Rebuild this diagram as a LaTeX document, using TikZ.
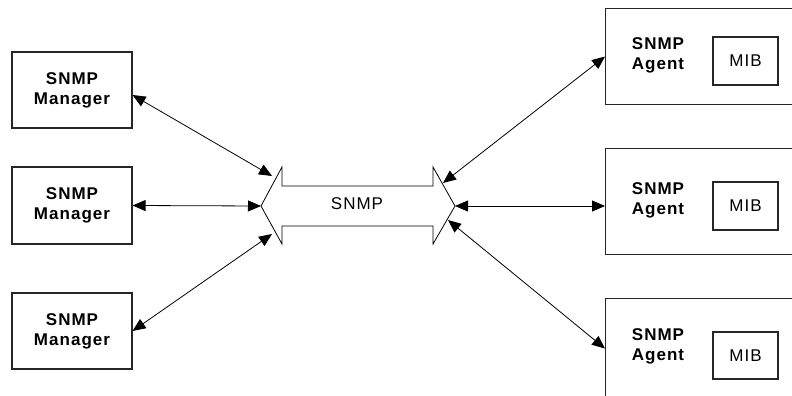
\documentclass[tikz,border=0pt]{standalone}
\usepackage{fontspec}
\setmainfont{Liberation Sans}
\newfontfamily\espaciada{Liberation Sans}[LetterSpace=6]
\usetikzlibrary{arrows.meta}

\tikzset{
  caja/.style={draw=black!85, line width=1.1pt, fill=white, inner sep=0pt},
  texto/.style={font=\espaciada\fontsize{17}{20}\selectfont, align=center},
  negrita/.style={font=\espaciada\bfseries\fontsize{17}{20}\selectfont, align=center},
  flecha/.style={{Triangle[length=13pt,width=11pt]}-{Triangle[length=13pt,width=11pt]}, line width=0.8pt}
}

\begin{document}
\begin{tikzpicture}[x=1pt, y=-1pt]
    \useasboundingbox (0,0) rectangle (792,396);
    \clip (0,0) rectangle (792,396);

    % Dibujar los gestores
    \node[caja, negrita, minimum width=120pt, minimum height=76pt] (m1) at (72,90) {SNMP\\Manager};
    \node[caja, negrita, minimum width=120pt, minimum height=77pt] (m2) at (72,205.5) {SNMP\\Manager};
    \node[caja, negrita, minimum width=120pt, minimum height=76pt] (m3) at (72,331) {SNMP\\Manager};

    % Dibujar la flecha doble del protocolo
    \draw[line width=0.8pt, fill=white] (261,206) -- (282,167) -- (282,186) -- (433,186) -- (433,167)
        -- (455,206) -- (433,244) -- (433,226) -- (282,226) -- (282,244) -- cycle;
    \node[texto] (snmp) at (357,204) {SNMP};
    \coordinate (izq) at (261,206);   % punta izquierda
    \coordinate (izqA) at (272,176);
    \coordinate (izqB) at (272,234);
    \coordinate (der) at (455,206);   % punta derecha
    \coordinate (derA) at (443,183);
    \coordinate (derB) at (448,220);

    % Dibujar los agentes
    \node[caja, minimum width=240pt, minimum height=96pt, anchor=north west] (a1) at (605,8) {};
    \node[caja, minimum width=240pt, minimum height=106pt, anchor=north west] (a2) at (605,148) {};
    \node[caja, minimum width=240pt, minimum height=100pt, anchor=north west] (a3) at (605,298) {};
    \node[negrita] (t1) at (658,55) {SNMP\\Agent};
    \node[negrita] (t2) at (658,200) {SNMP\\Agent};
    \node[negrita] (t3) at (658,346) {SNMP\\Agent};
    \node[caja, texto, minimum width=65pt, minimum height=48pt] (mib1) at (745.5,61) {MIB};
    \node[caja, texto, minimum width=65pt, minimum height=48pt] (mib2) at (745.5,206) {MIB};
    \node[caja, texto, minimum width=65pt, minimum height=47pt] (mib3) at (745.5,355.5) {MIB};

    % Conexiones
    \draw[flecha] ([yshift=-5pt]m1.east) -- (izqA);
    \draw[flecha] (m2.east) -- (izq);
    \draw[flecha] (m3.east) -- (izqB);
    \draw[flecha] (derA) -- (a1.west);
    \draw[flecha] (der) -- (der -| a2.west);
    \draw[flecha] (derB) -- (a3.west);

\end{tikzpicture}
\end{document}
